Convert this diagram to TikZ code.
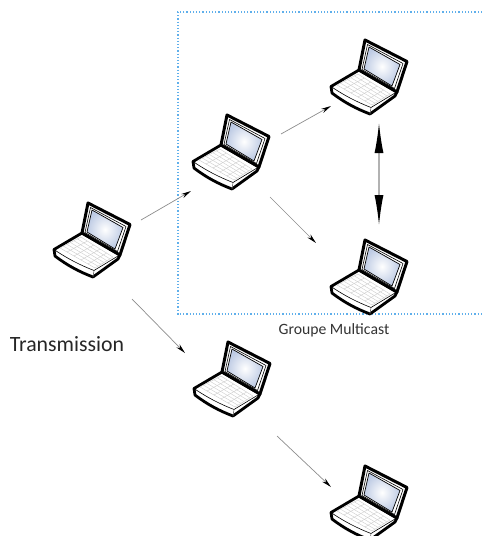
\documentclass[tikz,border=0pt]{standalone}
\usepackage{fontspec}
\setmainfont{Carlito}
\usetikzlibrary{arrows.meta, calc}
\definecolor{groupeblue}{RGB}{95, 175, 235}
\definecolor{screenblue}{RGB}{190, 203, 228}
\definecolor{keygray}{RGB}{205, 205, 205}
\tikzstyle{laptopnode} = [rectangle, minimum width=78pt, minimum height=74pt, inner sep=0pt]
\tikzstyle{arrow} = [draw=black!45, line width=0.7pt, -{Stealth[length=10pt,width=4.5pt,color=black]}]
\tikzstyle{bigarrow} = [draw=black!30, line width=1.3pt, {Latex[length=30pt,width=9pt,color=black]}-{Latex[length=30pt,width=9pt,color=black]}]
\tikzset{
  laptop/.pic={
    \begin{scope}[shift={(-4,-37)}, line join=round]
    % base
    \draw[line width=2.8pt, fill=white] (-6,30) -- (-34,46.5) -- (-33,53) .. controls (-20,63) and (-8,69) .. (5,74) -- (30,56) -- (32,52) -- cycle;
    \draw[line width=0.6pt] (-34,46.5) .. controls (-20,56) and (-8,62) .. (6,67.5) -- (30,53);
    \draw[line width=0.6pt, draw=black!60] (6,67.5) -- (5,74);
    % keys
    \coordinate (kl) at (-28,45);
    \coordinate (kt) at (-7,34);
    \coordinate (kr) at (25,54);
    \coordinate (kb) at (7,65);
    \foreach \t in {0,0.2,...,1.01}
      \draw[keygray, line width=0.4pt] ($(kl)!\t!(kb)$) -- ($(kt)!\t!(kr)$);
    \foreach \t in {0,0.166,...,1.01}
      \draw[keygray, line width=0.4pt] ($(kl)!\t!(kt)$) -- ($(kb)!\t!(kr)$);
    % lid
    \draw[line width=3pt, fill=white] (0,0) -- (42,21.5) -- (32,52) -- (-6,30) -- cycle;
    \draw[line width=0.6pt] (2.5,4.5) -- (38,23.5) -- (29.5,48.5) -- (-3,29.5) -- cycle;
    \draw[line width=0.7pt, inner color=white, outer color=screenblue] (4,7) -- (35,24.5) -- (27,46) -- (-1,29) -- cycle;
    \end{scope}
  }
}
\begin{document}
\begin{tikzpicture}[x=1pt, y=-1pt]
\useasboundingbox (0,0) rectangle (482,536);

\draw[groupeblue, line width=1.3pt, dash pattern=on 1.3pt off 1.9pt] (482,12) -- (178,12) -- (178,314) -- (482,314);

\node[laptopnode] (lapa) at (92,240) {};
\node[laptopnode] (lapb) at (231,152) {};
\node[laptopnode] (lapc) at (369,77) {};
\node[laptopnode] (lapd) at (369,277) {};
\node[laptopnode] (lape) at (232,379) {};
\node[laptopnode] (lapf) at (369,503) {};

\foreach \lap in {lapa,lapb,lapc,lapd,lape,lapf}
  \pic at (\lap) {laptop};

\draw[arrow] ($(lapa)+(49,-20)$) -- ($(lapb)+(-40,39)$);
\draw[arrow] ($(lapb)+(50,-18)$) -- ($(lapc)+(-38,29)$);
\draw[arrow] ($(lapb)+(39,45)$) -- ($(lapd)+(-53,-34)$);
\draw[bigarrow] ($(lapc)+(10,46)$) -- ($(lapd)+(10,-52)$);
\draw[arrow] ($(lapa)+(40,59)$) -- ($(lape)+(-47,-26)$);
\draw[arrow] ($(lape)+(45,57)$) -- ($(lapf)+(-38,-16)$);

\node[font=\fontsize{21.8}{24}\selectfont, text=black!85, inner sep=0pt] (transmission) at (67,344) {Transmission};
\node[font=\fontsize{15.7}{18}\selectfont, text=black!80, inner sep=0pt] (groupe) at (334,330) {Groupe Multicast};
\end{tikzpicture}
\end{document}
